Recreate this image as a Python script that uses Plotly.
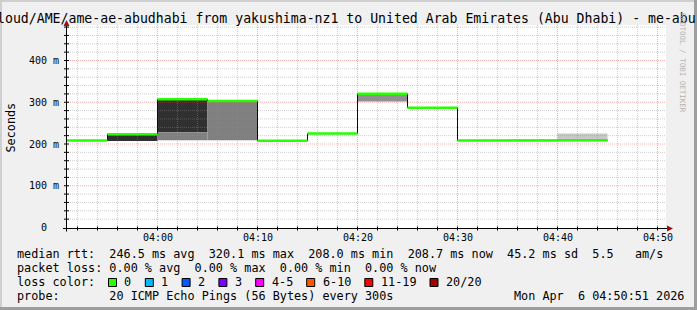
import plotly.graph_objects as go
import pandas as pd

DAY = "2026-04-06 "

# ---------------- data ----------------
step_start = ["03:50", "03:55", "04:00", "04:05", "04:10", "04:15",
              "04:20", "04:25", "04:30", "04:35", "04:40"]
step_end = "04:45"
median_ms = [208.2, 223.5, 307.0, 303.0, 208.0, 225.0,
             320.1, 287.0, 208.5, 208.3, 208.7]

smoke_start = ["03:55", "04:00", "04:00", "04:05", "04:20", "04:35", "04:40"]
smoke_lo = [207.0, 228.3, 208.8, 208.8, 302.0, 208.3, 208.7]
smoke_hi = [223.5, 307.0, 228.3, 302.5, 320.1, 210.0, 225.0]
smoke_shade = ["#303030", "#303030", "#808080", "#808080",
               "#909090", "#d4d4d4", "#c8c8c8"]

x_major = ["04:00", "04:10", "04:20", "04:30", "04:40", "04:50"]
y_major = [0, 100, 200, 300, 400]
y_labels = ["0\u00a0\u00a0", "100 m", "200 m", "300 m", "400 m"]

time_start = "03:50:51"
time_end = "04:50:51"

title_text = ("loud/AME/ame-ae-abudhabi from yakushima-nz1 to United Arab "
              "Emirates (Abu Dhabi) - me-abu")
y_title = "Seconds"
watermark = "RRDTOOL / TOBI OETIKER"
legend_rtt = ("median rtt:  246.5 ms avg  320.1 ms max  208.0 ms min  "
              "208.7 ms now  45.2 ms sd  5.5   am/s")
legend_loss = "packet loss: 0.00 % avg  0.00 % max  0.00 % min  0.00 % now"
legend_color = "loss color:"
loss_labels = ["0", "1", "2", "3", "4-5", "6-10", "11-19", "20/20"]
loss_colors = ["#26ff00", "#00b8ff", "#0059ff", "#7e00ff",
               "#ff00ff", "#ff5500", "#ff0000", "#a10000"]
legend_probe = "probe:       20 ICMP Echo Pings (56 Bytes) every 300s"
date_text = "Mon Apr  6 04:50:51 2026"

# ---------------- layout geometry ----------------
W, H = 697, 310
L, R, T, B = 66, 31, 25, 82
PW = W - L - R
PH = H - T - B
PX_PER_MS = 0.4175
YMIN = -0.5 / PX_PER_MS
YMAX = YMIN + PH / PX_PER_MS
MONO = "DejaVu Sans Mono"


def xp(px):
    return (px - L) / PW


def yp(py):
    return (H - B - py) / PH


def nb(s):
    return s.replace(" ", "\u00a0")


t = lambda s: DAY + s

minor_times = [d.strftime("%H:%M") for d in
               pd.date_range(t("03:52"), t("04:50"), freq="2min")]
x_minor = [m for m in minor_times if m not in x_major]
y_minor = [v for v in range(20, 481, 20) if v % 100 != 0]
y_grid_major = [v for v in y_major if v > 0]

fig = go.Figure()

# smoke
fig.add_trace(go.Bar(
    x=[t(s) for s in smoke_start],
    y=[h - l for h, l in zip(smoke_hi, smoke_lo)],
    base=smoke_lo,
    width=[5 * 60 * 1000] * len(smoke_start),
    offset=0,
    marker=dict(color=smoke_shade, line=dict(width=0)),
    hoverinfo="skip",
))


def vlines(times):
    xs, ys = [], []
    for m in times:
        xs += [t(m), t(m), None]
        ys += [YMIN, YMAX, None]
    return xs, ys


def hlines(vals):
    xs, ys = [], []
    for v in vals:
        xs += [t(time_start), t(time_end), None]
        ys += [v, v, None]
    return xs, ys


minor_col = "rgba(140,140,140,0.42)"
major_col = "rgba(235,70,70,0.42)"
for fn, vals, col in [(vlines, x_minor, minor_col), (hlines, y_minor, minor_col),
                      (vlines, x_major, major_col), (hlines, y_grid_major, major_col)]:
    xs, ys = fn(vals)
    fig.add_trace(go.Scatter(x=xs, y=ys, mode="lines",
                             line=dict(color=col, width=1, dash="1px,1px"),
                             hoverinfo="skip"))

# median: black step, then green segments
fig.add_trace(go.Scatter(
    x=[t(s) for s in step_start] + [t(step_end)],
    y=median_ms + [median_ms[-1]],
    mode="lines", line=dict(color="#200000", width=1, shape="hv"),
    hoverinfo="skip"))
gx, gy = [], []
ends = step_start[1:] + [step_end]
for s, e, v in zip(step_start, ends, median_ms):
    gx += [t(s), t(e), None]
    gy += [v, v, None]
fig.add_trace(go.Scatter(x=gx, y=gy, mode="lines",
                         line=dict(color=loss_colors[0], width=2.5),
                         hoverinfo="skip"))

shapes = []
# frame borders
shapes += [
    dict(type="rect", xref="paper", yref="paper", x0=xp(0), x1=xp(W), y0=yp(0), y1=yp(2),
         fillcolor="#cfcfcf", line=dict(width=0), layer="below"),
    dict(type="rect", xref="paper", yref="paper", x0=xp(0), x1=xp(2), y0=yp(0), y1=yp(H),
         fillcolor="#cfcfcf", line=dict(width=0), layer="below"),
    dict(type="rect", xref="paper", yref="paper", x0=xp(W - 3), x1=xp(W), y0=yp(0), y1=yp(H),
         fillcolor="#9e9e9e", line=dict(width=0), layer="below"),
    dict(type="rect", xref="paper", yref="paper", x0=xp(0), x1=xp(W), y0=yp(H - 3), y1=yp(H),
         fillcolor="#9e9e9e", line=dict(width=0), layer="below"),
]
# ticks
for m in x_minor + x_major:
    shapes.append(dict(type="line", xref="x", yref="paper", x0=t(m), x1=t(m),
                       y0=yp(226.5), y1=yp(230.5), line=dict(color="#000", width=1)))
for v in y_minor + y_grid_major:
    shapes.append(dict(type="line", xref="paper", yref="y", x0=xp(64), x1=xp(69),
                       y0=v, y1=v, line=dict(color="#000", width=1)))
# axes
shapes += [
    dict(type="line", xref="paper", yref="paper", x0=xp(63), x1=xp(669),
         y0=yp(228.5), y1=yp(228.5), line=dict(color="#000", width=1)),
    dict(type="line", xref="paper", yref="paper", x0=xp(66.5), x1=xp(66.5),
         y0=yp(231.5), y1=yp(24), line=dict(color="#000", width=1)),
    dict(type="path", xref="paper", yref="paper",
         path=f"M{xp(667)},{yp(225.5)} L{xp(673)},{yp(228.5)} L{xp(667)},{yp(231.5)} Z",
         fillcolor="#9b1010", line=dict(width=0)),
    dict(type="path", xref="paper", yref="paper",
         path=f"M{xp(63.5)},{yp(26)} L{xp(66.5)},{yp(20)} L{xp(69.5)},{yp(26)} Z",
         fillcolor="#9b1010", line=dict(width=0)),
]

ann = []


def text(s, px, py, size, anchor="left", color="#000", angle=0, xref="paper", yref="paper"):
    ann.append(dict(text=nb(s), x=xp(px) if xref == "paper" else px,
                    y=yp(py) if yref == "paper" else py,
                    xref=xref, yref=yref, xanchor=anchor, yanchor="middle",
                    showarrow=False, borderpad=0, textangle=angle,
                    font=dict(family=MONO, size=size, color=color)))


text(title_text, -4, 18.5, 13.2)
text(y_title, 10, 127.5, 11.8, anchor="center", angle=-90)
text(watermark, 683, 63, 7.5, anchor="center", color="#b4b4b4", angle=90)
for v, lab in zip(y_major, y_labels):
    text(lab, 60, v, 10, anchor="right", yref="y")
for m in x_major:
    ann.append(dict(text=m, x=t(m), y=yp(237.7), xref="x", yref="paper",
                    xanchor="center", yanchor="middle", showarrow=False, borderpad=0,
                    font=dict(family=MONO, size=10, color="#000")))

CW = 7.1
text(legend_rtt, 16, 254.3, 11.8)
text(legend_loss, 16, 268.3, 11.8)
text(legend_color, 16, 282.3, 11.8)
text(legend_probe, 16, 296.2, 11.8)
text(date_text, 513, 296.2, 11.8)

bx = 108.5
for lab, col in zip(loss_labels, loss_colors):
    shapes.append(dict(type="rect", xref="paper", yref="paper",
                       x0=xp(bx), x1=xp(bx + 8), y0=yp(278.5), y1=yp(286.5),
                       fillcolor=col, line=dict(color="#000", width=1)))
    lx = bx + 14.8
    text(lab, lx, 282.3, 11.8)
    bx = lx + len(lab) * CW + 14.9

fig.update_layout(
    width=W, height=H,
    margin=dict(l=L, r=R, t=T, b=B, pad=0),
    paper_bgcolor="#f0f0f0", plot_bgcolor="#ffffff",
    showlegend=False, barmode="overlay",
    xaxis=dict(type="date", range=[t(time_start), t(time_end)], showgrid=False,
               zeroline=False, showline=False, showticklabels=False, ticks="",
               fixedrange=True),
    yaxis=dict(range=[YMIN, YMAX], showgrid=False, zeroline=False, showline=False,
               showticklabels=False, ticks="", fixedrange=True),
    shapes=shapes, annotations=ann,
)

fig.write_html("out.html", config={"displayModeBar": False})
